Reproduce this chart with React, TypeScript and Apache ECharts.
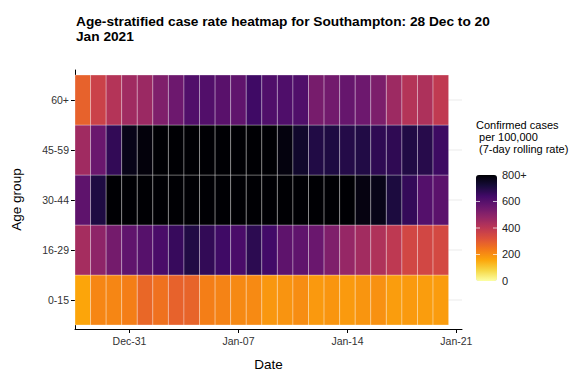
import React, { useEffect, useRef } from "react";
import * as echarts from "echarts";

const ageGroups = ["0-15", "16-29", "30-44", "45-59", "60+"];
const dates = [
  "2020-12-28", "2020-12-29", "2020-12-30", "2020-12-31", "2021-01-01", "2021-01-02",
  "2021-01-03", "2021-01-04", "2021-01-05", "2021-01-06", "2021-01-07", "2021-01-08",
  "2021-01-09", "2021-01-10", "2021-01-11", "2021-01-12", "2021-01-13", "2021-01-14",
  "2021-01-15", "2021-01-16", "2021-01-17", "2021-01-18", "2021-01-19", "2021-01-20",
];
const rate0to15 = [160, 215, 215, 230, 275, 255, 285, 282, 230, 220, 210, 208, 185, 190, 203, 182, 188, 180, 188, 195, 175, 180, 175, 176];
const rate16to29 = [445, 490, 540, 580, 600, 625, 660, 700, 670, 645, 625, 680, 640, 585, 580, 560, 520, 475, 450, 425, 395, 350, 350, 345];
const rate30to44 = [585, 705, 860, 930, 990, 1040, 1080, 1100, 1090, 1060, 1030, 990, 960, 920, 890, 860, 840, 815, 780, 770, 710, 665, 605, 590];
const rate45to59 = [455, 560, 670, 770, 790, 810, 850, 880, 890, 870, 850, 830, 810, 785, 740, 700, 705, 695, 700, 675, 675, 700, 690, 650];
const rate60plus = [285, 365, 415, 455, 465, 520, 555, 610, 608, 595, 580, 645, 612, 615, 612, 535, 545, 568, 555, 525, 460, 415, 430, 390];
const ratesByGroup = [rate0to15, rate16to29, rate30to44, rate45to59, rate60plus];

const xTickDays = [3, 10, 17, 24];
const xTickLabels = ["Dec-31", "Jan-07", "Jan-14", "Jan-21"];
const legendTickValues = [0, 200, 400, 600, 800];
const legendTickLabels = ["0", "200", "400", "600", "800+"];
const colorCap = 800;

// inferno palette, reversed (low = pale yellow, high = black)
const infernoReversed = [
  "#FCFFA4", "#F6D746", "#FCA50A", "#F37819", "#DD513A", "#BC3754",
  "#932667", "#6A176E", "#420A68", "#160B39", "#000004",
];

const FONT = "'Liberation Sans', Arial, Helvetica, sans-serif";

export default function App() {
  const ref = useRef<HTMLDivElement>(null);

  useEffect(() => {
    if (!ref.current) return;
    const chart = echarts.init(ref.current, null, { renderer: "svg" });

    const tileData: number[][] = [];
    ratesByGroup.forEach((rates, g) => {
      rates.forEach((v, d) => {
        tileData.push([d, g, v, Math.min(v, colorCap)]);
      });
    });

    const barLeft = 476;
    const barTop = 175;
    const barW = 21;
    const barH = 106;

    const legendGraphics: any[] = [];
    legendTickValues.forEach((v, i) => {
      const y = barTop + barH * (1 - v / colorCap);
      legendGraphics.push({
        type: "text",
        left: barLeft + 26,
        top: y - 6,
        style: { text: legendTickLabels[i], fill: "#222", font: `11px ${FONT}` },
        z: 100,
      });
      if (v > 0 && v < colorCap) {
        legendGraphics.push({
          type: "line",
          shape: { x1: barLeft, y1: y, x2: barLeft + 4, y2: y },
          style: { stroke: "rgba(255,255,255,0.7)", lineWidth: 1 },
          z: 100,
        });
        legendGraphics.push({
          type: "line",
          shape: { x1: barLeft + barW - 4, y1: y, x2: barLeft + barW, y2: y },
          style: { stroke: "rgba(255,255,255,0.7)", lineWidth: 1 },
          z: 100,
        });
      }
    });

    chart.setOption({
      animation: false,
      textStyle: { fontFamily: FONT },
      title: {
        text: "Age-stratified case rate heatmap for Southampton: 28 Dec to 20\nJan 2021",
        left: 76,
        top: 14,
        padding: 0,
        textStyle: { fontSize: 13.7, fontWeight: "bold", color: "#000", lineHeight: 15, fontFamily: FONT },
      },
      grid: { left: 75, right: 119, top: 70, bottom: 43, containLabel: false, outerBoundsMode: "none" },
      xAxis: {
        type: "value",
        min: -0.5,
        max: 24.36,
        name: "Date",
        nameLocation: "middle",
        nameGap: 28,
        nameTextStyle: { fontSize: 13.5, color: "#000", lineHeight: 14 },
        axisLine: { show: true, onZero: false, lineStyle: { color: "#000", width: 1 } },
        axisTick: { show: true, customValues: xTickDays, length: 4, lineStyle: { color: "#000" } },
        axisLabel: {
          customValues: xTickDays,
          formatter: (v: number) => xTickLabels[xTickDays.indexOf(Math.round(v))] ?? "",
          fontSize: 10.5,
          color: "#333",
          margin: 6,
        },
        splitLine: { show: false },
      },
      yAxis: {
        type: "value",
        min: -0.58,
        max: 4.6,
        name: "Age group",
        nameLocation: "middle",
        nameGap: 52,
        nameRotate: 90,
        nameTextStyle: { fontSize: 13.5, color: "#000" },
        axisLine: { show: true, onZero: false, lineStyle: { color: "#000", width: 1 } },
        axisTick: { show: true, customValues: [0, 1, 2, 3, 4], length: 4, lineStyle: { color: "#000" } },
        axisLabel: {
          customValues: [0, 1, 2, 3, 4],
          formatter: (v: number) => ageGroups[Math.round(v)] ?? "",
          fontSize: 10.5,
          color: "#333",
          margin: 6,
        },
        splitLine: { show: false },
      },
      visualMap: {
        type: "continuous",
        min: 0,
        max: colorCap,
        dimension: 3,
        seriesIndex: 1,
        orient: "vertical",
        left: barLeft,
        top: barTop,
        itemWidth: barW,
        itemHeight: barH,
        padding: 0,
        calculable: false,
        text: null,
        showLabel: false,
        inRange: { color: infernoReversed },
      },
      graphic: [
        {
          type: "text",
          left: 476,
          top: 119,
          style: {
            text: "Confirmed cases\n per 100,000\n (7-day rolling rate)",
            fill: "#000",
            font: `11px ${FONT}`,
            lineHeight: 12,
          },
        },
        ...legendGraphics,
      ],
      series: [
        {
          type: "custom",
          silent: true,
          z: 1,
          data: ageGroups.map((_, i) => [0, i]),
          encode: { x: 0, y: 1 },
          renderItem: (params: any, api: any) => {
            const cs = params.coordSys;
            const p = api.coord([0, api.value(1)]);
            return {
              type: "line",
              shape: { x1: cs.x, y1: p[1], x2: cs.x + cs.width, y2: p[1] },
              style: { stroke: "#ebebeb", lineWidth: 1 },
            };
          },
        },
        {
          type: "custom",
          z: 2,
          data: tileData,
          dimensions: ["day", "group", "rate", "rateCapped"],
          encode: { x: 0, y: 1 },
          renderItem: (params: any, api: any) => {
            const x = api.value(0);
            const y = api.value(1);
            const p0 = api.coord([x - 0.5, y + 0.5]);
            const p1 = api.coord([x + 0.5, y - 0.5]);
            return {
              type: "rect",
              shape: { x: p0[0], y: p0[1], width: p1[0] - p0[0], height: p1[1] - p0[1] },
              style: { fill: api.visual("color"), stroke: "rgba(255,255,255,0.3)", lineWidth: 1 },
            };
          },
        },
      ],
    });

    return () => chart.dispose();
  }, []);

  return <div ref={ref} style={{ width: 581, height: 372, position: "absolute", left: 0, top: 0 }} />;
}
